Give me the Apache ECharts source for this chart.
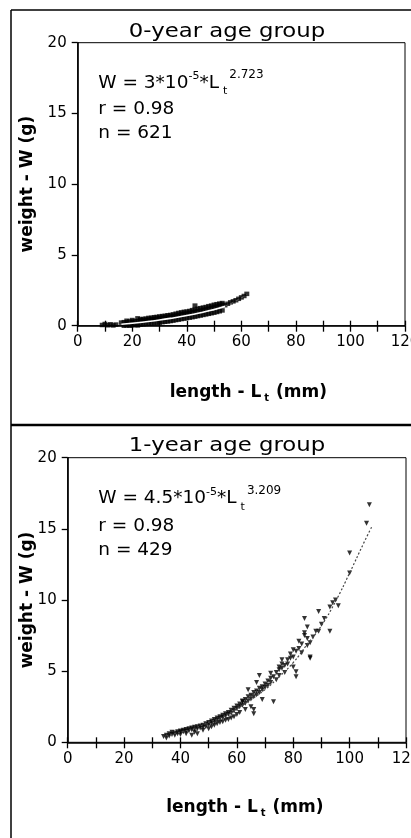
<!DOCTYPE html>
<html><head><meta charset="utf-8">
<script src="https://cdn.jsdelivr.net/npm/echarts@6/dist/echarts.min.js"></script>
<style>html,body{margin:0;padding:0;background:#fff}#c{width:411px;height:838px}</style>
</head><body><div id="c"></div>
<script>
// ---- tick labels / axes ----
const xMin = 0, xMax = 120, xStep = 20;
const yMin = 0, yMax = 20, yStep = 5;

// ---- titles & texts ----
const panelTitles = ['0-year age group', '1-year age group'];
const eqCoef = ['3', '4.5'];
const eqExp = ['2.723', '3.209'];
const rValues = ['0.98', '0.98'];
const nValues = ['621', '429'];

// ---- 0-year age group: [length mm, weight g] ----
const age0Points = [
  [9,0.05],[10,0.12],[11,0.03],[12,0.1],[13,0.02],[14,0.08],
  [16,0.22],[17,0.25],[18,0.24],[18,0.35],[19,0.3],[20,0.28],[20,0.4],[21,0.33],[22,0.32],[22,0.52],
  [23,0.38],[23,0.45],[24,0.36],[24,0.48],[25,0.4],[25,0.5],[26,0.42],[26,0.55],[27,0.45],[27,0.56],
  [28,0.47],[28,0.6],[29,0.5],[29,0.62],[30,0.53],[30,0.65],[31,0.56],[31,0.68],[32,0.58],[32,0.7],
  [33,0.62],[33,0.74],[34,0.64],[34,0.76],[35,0.68],[35,0.8],[36,0.72],[36,0.85],[37,0.76],[37,0.9],
  [38,0.8],[38,0.94],[39,0.84],[39,0.98],[40,0.86],[40,1.0],[41,0.9],[41,1.04],[42,0.95],[42,1.1],
  [43,0.98],[43,1.42],[43,1.15],[44,1.02],[44,1.2],[45,1.06],[45,1.24],[46,1.1],[46,1.28],[47,1.15],
  [47,1.32],[48,1.2],[48,1.38],[49,1.26],[49,1.42],[50,1.3],[50,1.48],[51,1.36],[51,1.52],[52,1.42],
  [52,1.56],[53,1.5],[53,1.6],
  [17,0.0],[18,0.02],[19,0.0],[20,0.03],[21,0.05],[22,0.02],[22,0.07],[23,0.08],[24,0.1],[25,0.12],
  [26,0.14],[27,0.16],[28,0.18],[29,0.2],[30,0.22],[31,0.25],[32,0.28],[33,0.3],[34,0.33],[35,0.36],
  [36,0.4],[37,0.43],[38,0.47],[39,0.5],[40,0.54],[41,0.57],[42,0.6],[43,0.64],[44,0.68],[45,0.72],
  [46,0.76],[47,0.8],[48,0.84],[49,0.88],[50,0.92],[51,0.97],[52,1.02],[53,1.08],
  [54,1.45],[55,1.55],[56,1.65],[57,1.72],[58,1.8],[59,1.9],[60,2.0],[61,2.1],[62,2.25]
];
// fitted curve (0-year)
const age0FitL = [16,20,25,30,35,40,45,50,54,58,62];
const age0FitW = [0.1,0.17,0.28,0.4,0.55,0.72,0.92,1.15,1.38,1.75,2.2];

// ---- 1-year age group: [length mm, weight g] ----
const age1Points = [
  [34,0.4],[35,0.5],[35,0.3],[36,0.6],[36,0.45],[37,0.55],[37,0.7],[38,0.65],[38,0.5],[39,0.75],[39,0.6],
  [40,0.8],[40,0.7],[40,0.55],[41,0.85],[41,0.75],[42,0.9],[42,0.78],[42,0.6],[43,0.95],[43,0.82],
  [44,1.0],[44,0.88],[44,0.5],[45,1.05],[45,0.92],[45,0.7],[46,1.1],[46,0.95],[46,0.6],[47,1.15],[47,1.0],
  [48,1.2],[48,1.05],[48,0.85],[49,1.3],[49,1.1],[50,1.4],[50,1.25],[50,0.95],[51,1.5],[51,1.35],[51,1.1],
  [52,1.6],[52,1.45],[52,1.2],[53,1.7],[53,1.55],[53,1.3],[54,1.8],[54,1.65],[54,1.4],[55,1.9],[55,1.75],
  [55,1.45],[56,2.0],[56,1.85],[56,1.55],[57,2.1],[57,1.95],[57,1.6],[58,2.25],[58,2.05],[58,1.7],
  [59,2.4],[59,2.2],[59,1.8],[60,2.55],[60,2.35],[60,1.95],[61,2.7],[61,2.5],[61,2.1],[62,2.85],[62,2.6],
  [62,2.9],[63,3.0],[63,2.75],[63,2.3],[64,3.2],[64,2.9],[64,3.7],[65,3.3],[65,3.05],[65,2.5],[66,3.5],
  [66,3.2],[66,2.0],[66,2.3],[67,3.6],[67,3.35],[67,4.2],[68,3.8],[68,3.5],[68,4.7],[69,3.9],[69,3.7],
  [69,3.0],[70,4.1],[70,3.85],[71,4.3],[71,4.0],[72,4.5],[72,4.85],[72,4.2],[73,4.6],[73,2.85],[74,4.9],
  [74,4.4],[75,5.1],[75,5.3],[75,4.7],[76,5.5],[76,5.2],[76,5.8],[77,5.4],[77,4.9],[78,5.8],[78,5.5],
  [79,6.2],[79,5.9],[80,6.0],[80,6.5],[80,5.3],[81,6.4],[81,4.95],[81,4.6],[82,6.6],[82,7.1],[83,6.9],
  [83,6.3],[84,7.5],[84,8.7],[84,7.7],[85,7.3],[85,8.1],[85,6.8],[86,7.0],[86,6.0],[86,5.9],[87,7.4],
  [88,7.8],[89,9.2],[89,7.8],[90,8.3],[91,8.7],[93,9.5],[93,7.8],[94,9.8],[95,10.0],[96,9.6],
  [100,13.3],[100,11.9],[106,15.4],[107,16.7]
];
// fitted curve (1-year)
const age1FitL = [35,40,45,50,55,60,65,70,75,80,85,90,95,100,105,108];
const age1FitW = [0.45,0.72,1.0,1.4,1.8,2.35,3.0,3.7,4.6,5.6,6.9,8.2,9.9,11.9,14.0,15.2];

const FONT = 'DejaVu Sans';
const pair = (a, b) => a.map((v, i) => [v, b[i]]);

const grids = [
  {left: 77.7, top: 42.7, width: 327.3, height: 283},
  {left: 67.7, top: 457.7, width: 338.3, height: 284.6}
];

function xMain(gi, shift, gap) {
  return {
    gridIndex: gi, type: 'value', min: xMin, max: xMax, interval: xStep,
    axisLine: {show: true, onZero: false, lineStyle: {color: '#000', width: 1.6}},
    axisTick: {show: true, length: 6, lineStyle: {color: '#000', width: 1.3}},
    minorTick: {show: true, splitNumber: 2, length: 6, lineStyle: {color: '#000', width: 1.3}},
    splitLine: {show: false},
    axisLabel: {show: true, margin: 9, color: '#000', fontFamily: FONT, fontSize: 15, hideOverlap: false},
    name: 'length - L{s|t} (mm)', nameLocation: 'middle', nameGap: gap, nameMoveOverlap: false,
    nameTextStyle: {color: '#000', fontFamily: FONT, fontWeight: 'bold', fontSize: 17,
      padding: [0, 0, 0, shift],
      rich: {s: {fontFamily: FONT, fontWeight: 'bold', fontSize: 10, verticalAlign: 'bottom', padding: [12, 1, 0, 3]}}}
  };
}
function xInner(gi) {
  return {
    gridIndex: gi, type: 'value', min: xMin, max: xMax, interval: xStep, position: 'bottom',
    axisLine: {show: false},
    axisTick: {show: true, inside: true, length: 5, lineStyle: {color: '#000', width: 1.3}},
    minorTick: {show: true, splitNumber: 2, length: 5, lineStyle: {color: '#000', width: 1.3}},
    splitLine: {show: false}, axisLabel: {show: false}
  };
}
function yMain(gi, gap) {
  return {
    gridIndex: gi, type: 'value', min: yMin, max: yMax, interval: yStep,
    axisLine: {show: true, onZero: false, lineStyle: {color: '#000', width: 1.6}},
    axisTick: {show: true, length: 6, lineStyle: {color: '#000', width: 1.3}},
    splitLine: {show: false},
    axisLabel: {margin: 11, color: '#000', fontFamily: FONT, fontSize: 15},
    name: 'weight - W (g)', nameLocation: 'middle', nameGap: gap, nameMoveOverlap: false,
    nameTextStyle: {color: '#000', fontFamily: FONT, fontWeight: 'bold', fontSize: 17}
  };
}

function eqText(i, x, y) {
  return {
    type: 'text', x: x, y: y, z: 100,
    style: {
      text: '{m|W = ' + eqCoef[i] + '*10}{p|-5}{m|*L}{b|t}{q|' + eqExp[i] + '}',
      textVerticalAlign: 'middle', textAlign: 'left', fill: '#000',
      rich: {
        m: {fontFamily: FONT, fontSize: 18.5, lineHeight: 28, verticalAlign: 'middle', fill: '#000'},
        p: {fontFamily: FONT, fontSize: 11, lineHeight: 14, verticalAlign: 'top', fill: '#000', padding: [2, 0, 0, 0]},
        b: {fontFamily: FONT, fontSize: 11, lineHeight: 12, verticalAlign: 'bottom', fill: '#000', padding: [0, 0, 0, 4]},
        q: {fontFamily: FONT, fontSize: 12, lineHeight: 12, verticalAlign: 'top', fill: '#000', padding: [0, 0, 0, 2]}
      }
    }
  };
}
function plainText(t, x, y, size, extra) {
  return Object.assign({
    type: 'text', x: x, y: y, z: 100,
    style: {text: t, fontFamily: FONT, fontSize: size, fill: '#000', textAlign: 'left', textVerticalAlign: 'middle'}
  }, extra || {});
}

const chart = echarts.init(document.getElementById('c'), null, {renderer: 'canvas'});
chart.setOption({
  animation: false,
  backgroundColor: '#fff',
  grid: grids.map(g => Object.assign({show: true, borderColor: '#000', borderWidth: 1, backgroundColor: 'transparent',
    containLabel: false, outerBoundsMode: 'none'}, g)),
  xAxis: [xMain(0, 14, 56), xInner(0), xMain(1, 16, 54), xInner(1)],
  yAxis: [yMain(0, 42), yMain(1, 32)],
  series: [
    {type: 'scatter', xAxisIndex: 0, yAxisIndex: 0, data: age0Points, symbol: 'rect', symbolSize: [5, 4.5],
     itemStyle: {color: '#000'}, z: 2},
    {type: 'line', xAxisIndex: 0, yAxisIndex: 0, data: pair(age0FitL, age0FitW).slice(0, 9), smooth: true,
     showSymbol: false, lineStyle: {color: '#fff', width: 1.6}, z: 3},
    {type: 'line', xAxisIndex: 0, yAxisIndex: 0, data: pair(age0FitL, age0FitW).slice(8), smooth: true,
     showSymbol: false, lineStyle: {color: '#555', width: 1.2, type: [3, 3]}, z: 3},
    {type: 'scatter', xAxisIndex: 2, yAxisIndex: 1, data: age1Points, symbol: 'triangle', symbolRotate: 180,
     symbolSize: 5, itemStyle: {color: '#000'}, z: 2},
    {type: 'line', xAxisIndex: 2, yAxisIndex: 1, data: pair(age1FitL, age1FitW), smooth: true,
     showSymbol: false, lineStyle: {color: '#444', width: 1.2, type: [2, 2]}, z: 3}
  ],
  graphic: [
    {type: 'line', shape: {x1: 11, y1: 10, x2: 11, y2: 838}, style: {stroke: '#000', lineWidth: 1.5}},
    {type: 'line', shape: {x1: 11, y1: 10, x2: 411, y2: 10}, style: {stroke: '#000', lineWidth: 1.5}},
    {type: 'line', shape: {x1: 11, y1: 425, x2: 411, y2: 425}, style: {stroke: '#000', lineWidth: 2.5}},
    {type: 'text', x: 227, y: 32, scaleX: 1.14, z: 100,
     style: {text: panelTitles[0], fontFamily: FONT, fontSize: 20, fill: '#000', textAlign: 'center', textVerticalAlign: 'middle'}},
    {type: 'text', x: 227, y: 445.5, scaleX: 1.14, z: 100,
     style: {text: panelTitles[1], fontFamily: FONT, fontSize: 20, fill: '#000', textAlign: 'center', textVerticalAlign: 'middle'}},
    eqText(0, 98.3, 83),
    plainText('r = ' + rValues[0], 98.3, 109.5, 18.5),
    plainText('n = ' + nValues[0], 98.3, 133.5, 18.5),
    eqText(1, 98.3, 498.5),
    plainText('r = ' + rValues[1], 98.3, 526.3, 18.5),
    plainText('n = ' + nValues[1], 98.3, 550.5, 18.5)
  ]
});
</script>
</body></html>
